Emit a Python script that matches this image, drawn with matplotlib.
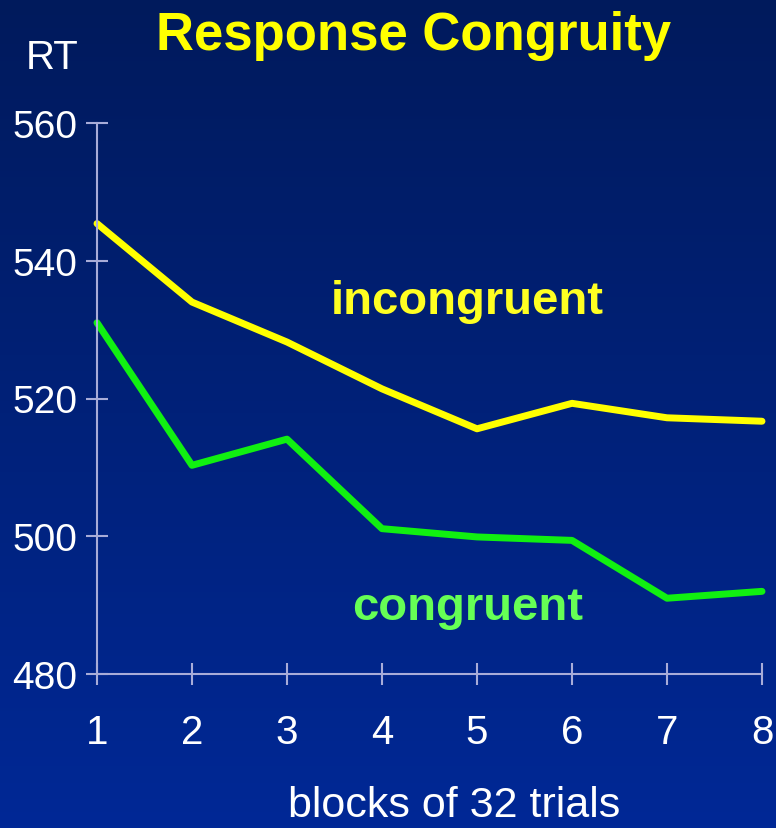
import numpy as np
import matplotlib as mpl
mpl.use('agg')
import matplotlib.pyplot as plt

blocks = [1, 2, 3, 4, 5, 6, 7, 8]
incongruent = [545.4, 534.0, 528.2, 521.4, 515.6, 519.3, 517.2, 516.7]
congruent = [531.0, 510.3, 514.1, 501.1, 499.9, 499.4, 491.0, 492.0]
yticks = [480, 500, 520, 540, 560]

plt.rcParams['font.family'] = ['Liberation Sans', 'DejaVu Sans']

fig = plt.figure(figsize=(7.76, 8.29), dpi=100)

# background gradient, dark navy at top to brighter blue at bottom
bg = fig.add_axes([0, 0, 1, 1], zorder=-1)
grad = np.linspace(0, 1, 256)[:, None]
top = np.array([0, 26, 92]) / 255
bot = np.array([0, 40, 150]) / 255
img = top + grad[..., None] * (bot - top)
bg.imshow(img, aspect='auto', extent=[0, 1, 0, 1])
bg.axis('off')

ax = fig.add_axes([97/776, 1 - 675/829, (762 - 97)/776, (675 - 124)/829])
ax.patch.set_alpha(0)
ax.plot(blocks, incongruent, color='#ffff00', lw=5, solid_capstyle='round', solid_joinstyle='round', clip_on=False)
ax.plot(blocks, congruent, color='#11f011', lw=5, solid_capstyle='round', solid_joinstyle='round', clip_on=False)

ax.set_xlim(1, 8)
ax.set_ylim(480, 560)
ax.set_xticks(blocks)
ax.set_yticks(yticks)
for s in ['top', 'right']:
    ax.spines[s].set_visible(False)
axcol = '#a8acd8'
for s in ['left', 'bottom']:
    ax.spines[s].set_color(axcol)
    ax.spines[s].set_linewidth(1.5)
ax.tick_params(axis='both', direction='inout', color=axcol, width=1.5, length=16,
               labelcolor='white')
ax.tick_params(axis='x', labelsize=29, pad=20)
ax.tick_params(axis='y', labelsize=28, pad=6)

fig.text(0.533, 0.956, 'Response Congruity', color='#ffff00', fontsize=38,
         fontweight='bold', ha='center', va='center')
fig.text(0.067, 0.93, 'RT', color='white', fontsize=29, ha='center', va='center')
fig.text(0.585, 0.014, 'blocks of 32 trials', color='white', fontsize=31, ha='center', va='baseline')
ax.text(4.9, 534.2, 'incongruent', color='#ffff22', fontsize=34, fontweight='bold',
        ha='center', va='center')
ax.text(4.9, 489.8, 'congruent', color='#66ff55', fontsize=34, fontweight='bold',
        ha='center', va='center')

fig.savefig('out.png', dpi=100)
